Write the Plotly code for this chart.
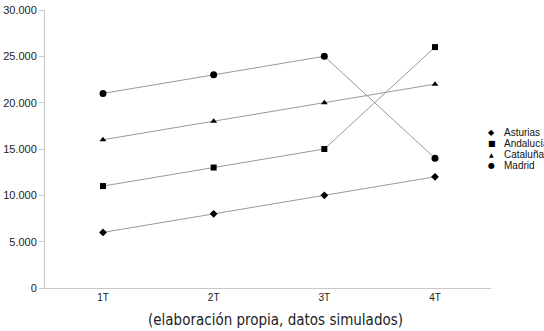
import plotly.graph_objects as go

categories = ["1T", "2T", "3T", "4T"]
asturias = [6000, 8000, 10000, 12000]
andalucia = [11000, 13000, 15000, 26000]
cataluna = [16000, 18000, 20000, 22000]
madrid = [21000, 23000, 25000, 14000]
y_ticks = [0, 5000, 10000, 15000, 20000, 25000, 30000]

series = [
    ("Asturias", asturias, "diamond", 6, "◆", 8),
    ("Andalucía", andalucia, "square", 6, "■", 8),
    ("Cataluña", cataluna, "triangle-up", 6, "▲", 6),
    ("Madrid", madrid, "circle", 7, "●", 8),
]

fig = go.Figure()
annotations = []
for i, (name, vals, sym, size, glyph, gsize) in enumerate(series):
    fig.add_trace(go.Scatter(
        x=categories, y=vals, name=name, mode="lines+markers",
        line=dict(color="#999999", width=1),
        marker=dict(symbol=sym, size=size, color="black"),
        showlegend=False,
    ))
    ly = 0.558 - i * 0.039
    annotations.append(dict(
        text=glyph, x=1.002, xref="paper", y=ly, yref="paper",
        xanchor="center", yanchor="middle", showarrow=False,
        font=dict(family="DejaVu Sans", size=gsize, color="black"),
    ))
    annotations.append(dict(
        text=name, x=1.025, xref="paper", y=ly, yref="paper",
        xanchor="left", yanchor="middle", showarrow=False,
        font=dict(family="Liberation Sans, Arial, sans-serif", size=10, color="#111"),
    ))

annotations.append(dict(
    text="(elaboración propia, datos simulados)",
    x=0.516, xref="paper", y=-0.115, yref="paper", yanchor="middle",
    showarrow=False,
    font=dict(family="DejaVu Sans Condensed, Liberation Sans Narrow, sans-serif", size=15, color="#222"),
))

fig.update_layout(
    width=544, height=331,
    margin=dict(l=45, r=53, t=10, b=43),
    paper_bgcolor="white", plot_bgcolor="white",
    separators=",.",
    font=dict(family="Liberation Sans, Arial, sans-serif", size=10, color="#222"),
    xaxis=dict(
        type="category", range=[-0.524, 3.506], showgrid=False,
        showline=True, linecolor="#c8c8c8", linewidth=1,
        ticks="", tickfont=dict(size=10), automargin=False,
    ),
    yaxis=dict(
        range=[0, 30000], tickvals=y_ticks, tickformat=",d",
        showgrid=False, zeroline=False,
        showline=True, linecolor="#c8c8c8", linewidth=1,
        ticks="outside", ticklen=5, tickcolor="#c8c8c8",
        tickfont=dict(size=11), automargin=False,
    ),
    showlegend=False,
    annotations=annotations,
)

fig.write_html(
    "out.html",
    config={"displayModeBar": False},
    post_script="document.body.style.margin='0';document.body.style.overflow='hidden';",
)
